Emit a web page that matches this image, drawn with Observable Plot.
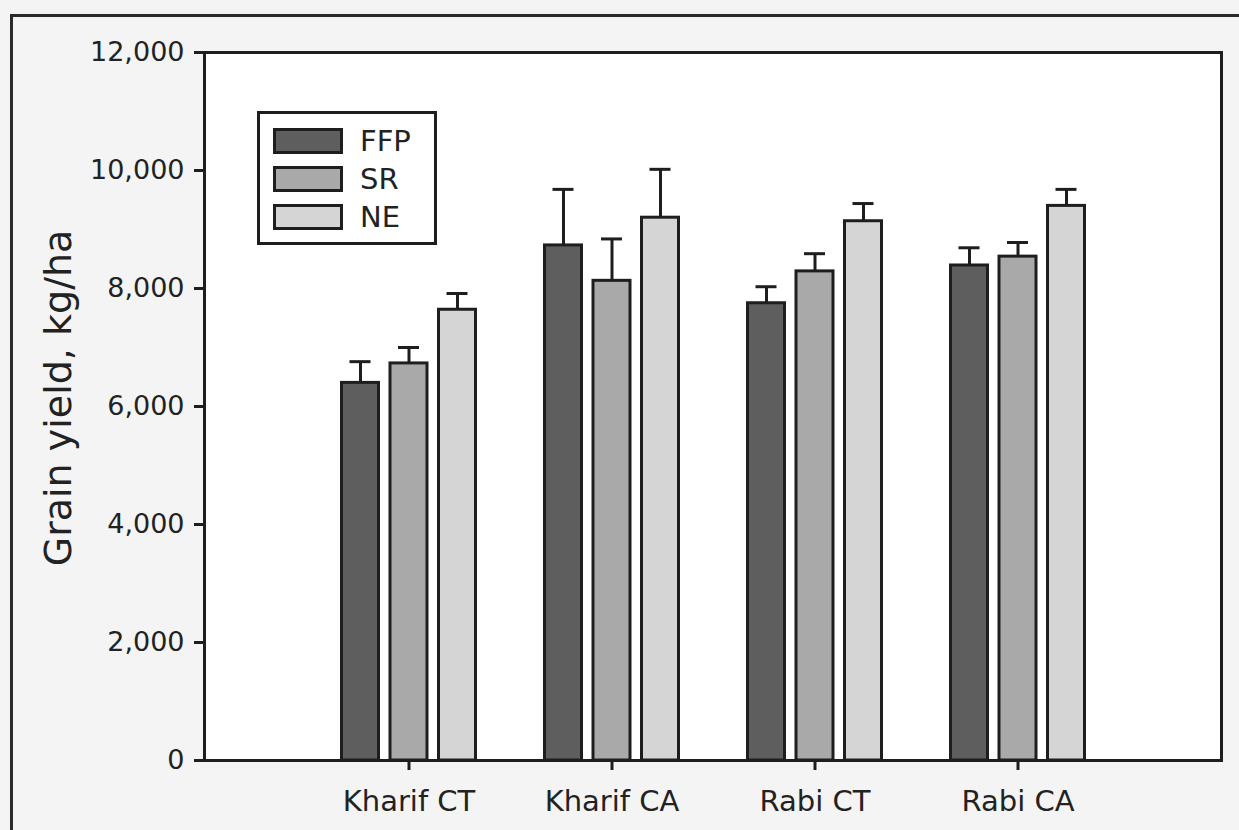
<!DOCTYPE html>
<html>
<head>
<meta charset="utf-8">
<script src="https://cdn.jsdelivr.net/npm/d3@7"></script>
<script src="https://cdn.jsdelivr.net/npm/@observablehq/plot@0.6"></script>
<style>
  html, body { margin: 0; padding: 0; background: #f4f4f4; overflow: hidden; }
  #wrap { position: relative; width: 1239px; height: 830px; font-family: "DejaVu Sans", sans-serif; color: #222; }
  #outer { position: absolute; left: 10px; top: 14px; width: 1400px; height: 1000px; border-left: 3px solid #2a2a2a; border-top: 3px solid #2a2a2a; box-sizing: border-box; }
  #chart { position: absolute; left: 0; top: 0; }
  #ytitle { position: absolute; left: 58px; top: 398px; transform: translate(-50%, -50%) rotate(-90deg); white-space: nowrap; font-size: 38px; color: #222; }
  #legend { position: absolute; left: 257px; top: 111px; width: 180px; height: 134px; box-sizing: border-box; border: 3px solid #1e1e1e; background: #fff; padding-top: 14px; }
  .lrow { display: flex; align-items: center; height: 26px; margin-bottom: 12px; }
  .lsw { width: 70px; height: 26px; box-sizing: border-box; border: 3px solid #1e1e1e; margin-left: 13px; }
  .ltx { margin-left: 17px; font-size: 29px; line-height: 26px; }
  svg .tick line, svg g[aria-label$="tick"] path { stroke-width: 3px; stroke: #1e1e1e; }
  svg g[aria-label^="x-axis"] text { font-size: 29px; }
</style>
</head>
<body>
<div id="wrap">
  <div id="outer"></div>
  <div id="chart"></div>
  <div id="ytitle">Grain yield, kg/ha</div>
  <div id="legend"></div>
</div>
<script>
const categories = ["Kharif CT", "Kharif CA", "Rabi CT", "Rabi CA"];
const treatments = ["FFP", "SR", "NE"];
const ffpValues = [6400, 8730, 7750, 8390];
const ffpErrors = [360, 950, 280, 300];
const srValues = [6730, 8130, 8290, 8540];
const srErrors = [270, 710, 300, 240];
const neValues = [7640, 9200, 9140, 9400];
const neErrors = [275, 820, 300, 280];
const yTicks = [0, 2000, 4000, 6000, 8000, 10000, 12000];
const fills = ["#5e5e5e", "#a9a9a9", "#d5d5d5"];
const yTitle = "Grain yield, kg/ha";

const seriesValues = [ffpValues, srValues, neValues];
const seriesErrors = [ffpErrors, srErrors, neErrors];
const rows = [];
treatments.forEach((t, k) => {
  categories.forEach((c, i) => {
    rows.push({category: c, treatment: t, k, value: seriesValues[k][i], err: seriesErrors[k][i]});
  });
});

const ink = "#1e1e1e";
const barStep = 48.5;
const marks = [Plot.frame({fill: "white"})];
treatments.forEach((t, k) => {
  const sub = rows.filter(d => d.treatment === t);
  const dx = (k - 1) * barStep;
  marks.push(Plot.ruleX(sub, {x: "category", y1: "value", y2: d => d.value + d.err, stroke: ink, strokeWidth: 3, dx}));
  marks.push(Plot.barY(sub, {x: "category", y: "value", fill: fills[k], stroke: ink, strokeWidth: 3, insetLeft: 48, insetRight: 48, dx}));
  marks.push(Plot.tickY(sub, {x: "category", y: d => d.value + d.err, stroke: ink, strokeWidth: 3, insetLeft: 56, insetRight: 56, dx}));
});
marks.push(Plot.frame({stroke: ink, strokeWidth: 3}));

const chart = Plot.plot({
  width: 1239,
  height: 830,
  marginLeft: 204,
  marginRight: 18,
  marginTop: 52,
  marginBottom: 70,
  style: {background: "transparent", fontFamily: "DejaVu Sans, sans-serif", fontSize: "27px", color: "#222", overflow: "visible"},
  x: {domain: categories, paddingInner: 0.346, paddingOuter: 0.673, label: null, tickSize: 10, tickPadding: 20},
  y: {domain: [0, 12000], ticks: yTicks, tickFormat: d3.format(","), tickSize: 10, tickPadding: 10, label: null},
  marks
});
document.getElementById("chart").appendChild(chart);
document.getElementById("ytitle").textContent = yTitle;

const legend = document.getElementById("legend");
treatments.forEach((t, k) => {
  const row = document.createElement("div");
  row.className = "lrow";
  const sw = document.createElement("div");
  sw.className = "lsw";
  sw.style.background = fills[k];
  const tx = document.createElement("div");
  tx.className = "ltx";
  tx.textContent = t;
  row.appendChild(sw);
  row.appendChild(tx);
  legend.appendChild(row);
});
</script>
</body>
</html>
